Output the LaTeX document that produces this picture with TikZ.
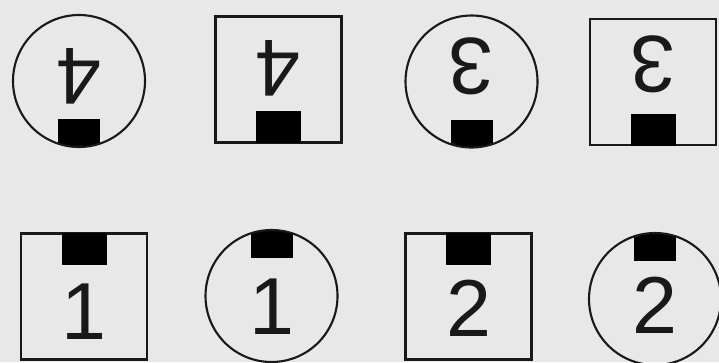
\documentclass[tikz,border=0pt]{standalone}
\usepackage{fontspec}
\setsansfont{Liberation Sans}
\usepackage{xcolor}
\usepackage{tikz}
\usetikzlibrary{positioning, calc}

\definecolor{papel}{RGB}{232,232,232}

\begin{document}
\begin{tikzpicture}[
    baseForma/.style={
        draw=black!90,
        line width=1.2pt,
        inner sep=0pt
    },
    disco/.style={baseForma, circle, minimum size=2.64cm,
        path picture={
            \fill[black] ($(path picture bounding box.center)!0.58!(path picture bounding box.#1)+(-0.42cm,0)$)
                rectangle ($(path picture bounding box.#1)+(0.42cm,0)$);
        }
    },
    caixa/.style={baseForma, rectangle, minimum size=2.52cm},
    marca/.style={rectangle, fill=black, inner sep=0pt, minimum width=0.9cm, minimum height=0.64cm},
    numero/.style={font=\sffamily\fontsize{46}{46}\selectfont, inner sep=0pt, text=black!90}
]

    % --- background ---
    \fill[papel] (0,0) rectangle (14.38,-7.24);
    \useasboundingbox (0,0) rectangle (14.38,-7.24);

    % --- 1. Upper row (marks below, digits upside down) ---
    \node[disco=south] (d4a) at (1.58,-1.62) {};
    \node[caixa] (c4a) at (5.57,-1.59) {};
    \node[disco=south] (d3a) at (9.43,-1.63) {};
    \node[caixa] (c3a) at (13.06,-1.64) {};

    \node[marca, anchor=south] (m4a) at (c4a.south) {};
    \node[marca, anchor=south] (m3a) at (c3a.south) {};

    \node[numero, rotate=180] (n4a) at ([yshift=0.09cm]d4a.center) {4};
    \node[numero, rotate=180] (n4b) at ([yshift=0.22cm]c4a.center) {4};
    \node[numero, rotate=180] (n3a) at ([yshift=0.30cm]d3a.center) {3};
    \node[numero, rotate=180] (n3b) at ([yshift=0.36cm]c3a.center) {3};

    % --- 2. Lower row (marks above) ---
    \node[caixa] (c1a) at (1.68,-5.93) {};
    \node[disco=north] (d1a) at (5.43,-5.92) {};
    \node[caixa] (c2a) at (9.37,-5.93) {};
    \node[disco=north] (d2a) at (13.10,-5.98) {};

    \node[marca, anchor=north] (m1a) at (c1a.north) {};
    \node[marca, anchor=north] (m2a) at (c2a.north) {};

    \node[numero] (n1a) at ([yshift=-0.30cm]c1a.center) {1};
    \node[numero] (n1b) at ([yshift=-0.22cm]d1a.center) {1};
    \node[numero] (n2a) at ([yshift=-0.24cm]c2a.center) {2};
    \node[numero] (n2b) at ([yshift=-0.13cm]d2a.center) {2};
\end{tikzpicture}
\end{document}
